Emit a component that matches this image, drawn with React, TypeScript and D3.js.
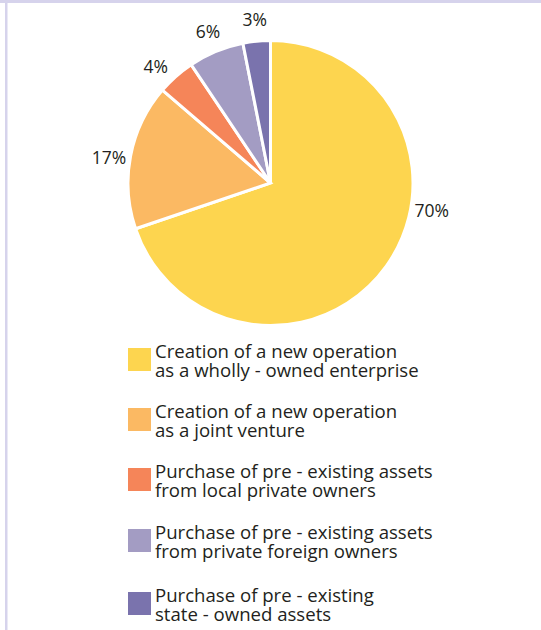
import React from "react";
import * as d3 from "d3";

const categories: string[][] = [
  ["Creation of a new operation", "as a wholly - owned enterprise"],
  ["Creation of a new operation", "as a joint venture"],
  ["Purchase of pre - existing assets", "from local private owners"],
  ["Purchase of pre - existing assets", "from private foreign owners"],
  ["Purchase of pre - existing", "state - owned assets"],
];
const values: number[] = [69.8, 16.5, 4.3, 6.3, 3.1];
const colors: string[] = ["#fdd54f", "#fbb963", "#f58559", "#a39cc3", "#7a73ad"];
const labelAngleShift: number[] = [-26, -2, -3, 0, 0];
const legendTops: number[] = [348, 408, 468, 529, 592];

const W = 541;
const H = 630;
const cx = 270.5;
const cy = 183;
const R = 142.5;
const FONT = "'Open Sans', Lato, sans-serif";

export default function App() {
  const pie = d3.pie<number>().sort(null).value((d) => d).startAngle(0).endAngle(2 * Math.PI);
  const arcs = pie(values);
  const arc = d3.arc<d3.PieArcDatum<number>>().innerRadius(0).outerRadius(R);
  const labelR = R + 21;

  return (
    <svg
      width={W}
      height={H}
      style={{ position: "absolute", left: 0, top: 0, background: "#fff" }}
      fontFamily={FONT}
    >
      <rect x={0} y={0} width={W} height={3} fill="#d6d3ec" />
      <rect x={5} y={0} width={2.5} height={H} fill="#d6d3ec" />
      <g transform={`translate(${cx},${cy})`}>
        {arcs.map((a, i) => (
          <path key={i} d={arc(a) || ""} fill={colors[i]} stroke="#fff" strokeWidth={3} strokeLinejoin="miter" />
        ))}
        {arcs.map((a, i) => {
          const mid = (a.startAngle + a.endAngle) / 2 + (labelAngleShift[i] * Math.PI) / 180;
          const x = Math.sin(mid) * labelR;
          const y = -Math.cos(mid) * labelR;
          return (
            <text key={"l" + i} x={x} y={y} dy="0.35em" textAnchor="middle" fontSize={17.5} fill="#231f20">
              {`${Math.round(values[i])}%`}
            </text>
          );
        })}
      </g>
      {categories.map((lines, i) => (
        <g key={"lg" + i} transform={`translate(128,${legendTops[i]})`}>
          <rect x={0} y={0} width={23} height={23} fill={colors[i]} />
          <text x={27} y={10} fontSize={18.6} fill="#231f20">
            {lines.map((t, j) => (
              <tspan key={j} x={27} dy={j === 0 ? 0 : 18.5}>
                {t}
              </tspan>
            ))}
          </text>
        </g>
      ))}
    </svg>
  );
}
